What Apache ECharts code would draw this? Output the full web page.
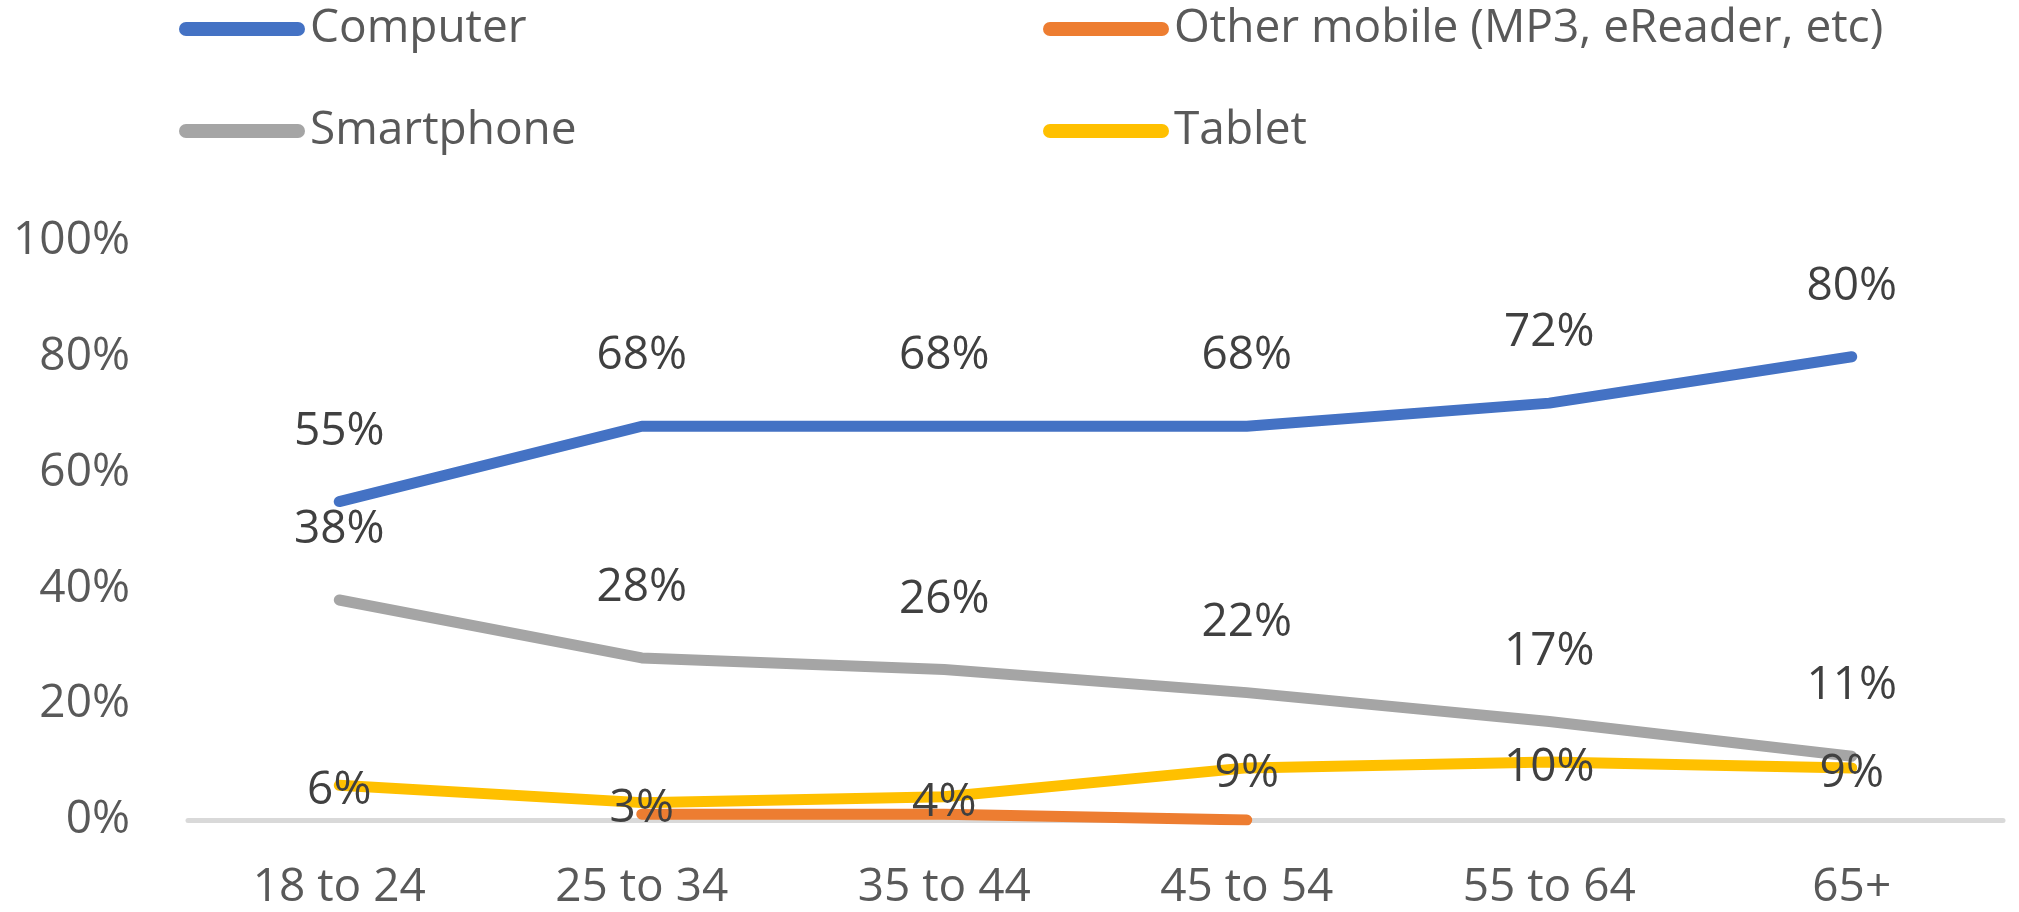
<!DOCTYPE html>
<html>
<head>
<meta charset="utf-8">
<title>Device by age group</title>
<script src="https://cdn.jsdelivr.net/npm/echarts@6/dist/echarts.min.js"></script>
<style>
  html, body { margin: 0; padding: 0; background: #fff; }
  #myChart { width: 2019px; height: 912px; }
</style>
</head>
<body>
<div id="myChart"></div>
<script>
// age groups on the x axis
const ageGroups = ['18 to 24', '25 to 34', '35 to 44', '45 to 54', '55 to 64', '65+']
const yTicks = [0, 20, 40, 60, 80, 100]

// share of people by main device, in %
const computer = [55, 68, 68, 68, 72, 80]
const otherMobile = [null, 1, 1, 0, null, null]
const smartphone = [38, 28, 26, 22, 17, 11]
const tablet = [6, 3, 4, 9, 10, 9]

const FONT = 'Open Sans'
const lineIcon = 'path://M7,0 H119 A7,7 0 0 1 119,14 H7 A7,7 0 0 1 7,0 Z'

function lineSeries (name, color, data, labelPos) {
  let s = {
    name: name,
    type: 'line',
    data: data,
    symbol: 'circle',
    symbolSize: 0.1,
    itemStyle: { color: color },
    lineStyle: { color: color, width: 11, cap: 'round', join: 'round' },
    emphasis: { disabled: true },
    label: { show: false }
  }
  if (labelPos === 'top') {
    s.label = {
      show: true,
      position: 'top',
      distance: 47,
      formatter: '{c}%',
      color: '#404040',
      fontFamily: FONT,
      fontSize: 46,
      lineHeight: 46
    }
  } else if (labelPos === 'inside') {
    s.label = {
      show: true,
      position: 'inside',
      offset: [0, 6],
      formatter: '{c}%',
      color: '#404040',
      fontFamily: FONT,
      fontSize: 46,
      lineHeight: 46
    }
  }
  return s
}

const legendText = { color: '#595959', fontFamily: FONT, fontSize: 46, lineHeight: 46 }

let myChart = echarts.init(document.getElementById('myChart'))
myChart.setOption({
  animation: false,
  legend: [
    {
      data: ['Computer', 'Smartphone'],
      orient: 'vertical',
      left: 179,
      top: 6,
      icon: lineIcon,
      itemWidth: 126,
      itemHeight: 14,
      itemGap: 56,
      padding: 0,
      textStyle: legendText,
      selectedMode: false
    },
    {
      data: ['Other mobile (MP3, eReader, etc)', 'Tablet'],
      orient: 'vertical',
      left: 1043,
      top: 6,
      icon: lineIcon,
      itemWidth: 126,
      itemHeight: 14,
      itemGap: 56,
      padding: 0,
      textStyle: legendText,
      selectedMode: false
    }
  ],
  grid: { left: 188, right: 16, top: 241, bottom: 92 },
  xAxis: {
    type: 'category',
    data: ageGroups,
    boundaryGap: true,
    axisLine: { show: true, lineStyle: { color: '#d9d9d9', width: 5 } },
    axisTick: { show: false },
    axisLabel: { margin: 45, color: '#595959', fontFamily: FONT, fontSize: 46 }
  },
  yAxis: {
    type: 'value',
    min: yTicks[0],
    max: yTicks[yTicks.length - 1],
    interval: 20,
    splitLine: { show: false },
    axisLine: { show: false },
    axisTick: { show: false },
    axisLabel: { margin: 58, formatter: '{value}%', color: '#595959', fontFamily: FONT, fontSize: 46 }
  },
  series: [
    lineSeries('Computer', '#4472C4', computer, 'top'),
    lineSeries('Other mobile (MP3, eReader, etc)', '#ED7D31', otherMobile, 'none'),
    lineSeries('Smartphone', '#A5A5A5', smartphone, 'top'),
    lineSeries('Tablet', '#FFC000', tablet, 'inside')
  ]
})
</script>
</body>
</html>
